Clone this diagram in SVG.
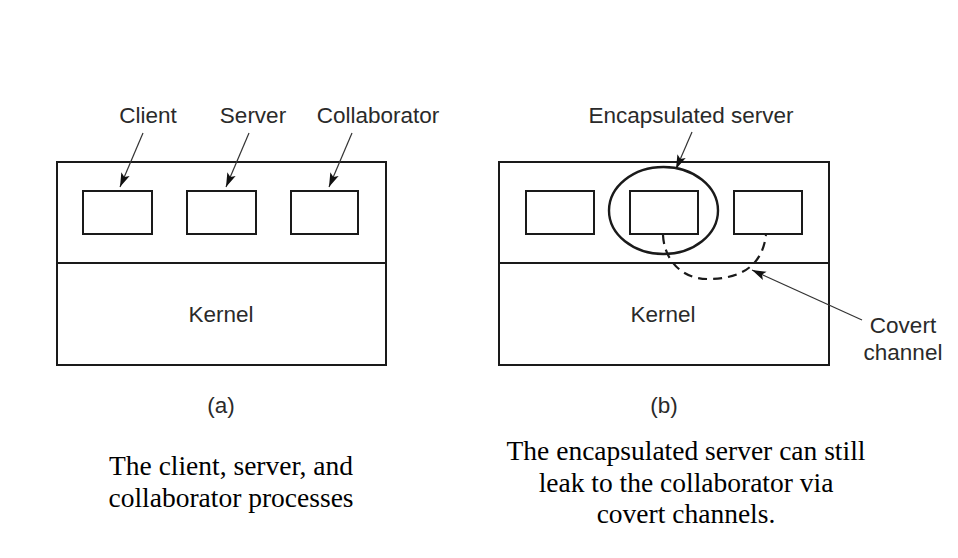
<svg xmlns="http://www.w3.org/2000/svg" width="958" height="558" viewBox="0 0 958 558">
<defs>
<style>
.frame{fill:none;stroke:#1a1a1a;stroke-width:2}
.box{fill:#fff;stroke:#1a1a1a;stroke-width:2}
.lbl{font-family:"Liberation Sans",Arial,sans-serif;font-size:22.5px;fill:#2a2a2a}
.cap{font-family:"Liberation Serif","Times New Roman",serif;font-size:27.5px;fill:#000;text-anchor:middle}
.ptr{stroke:#333;stroke-width:1.2;fill:none;marker-end:url(#ah)}
.dash{fill:none;stroke:#1a1a1a;stroke-width:2.2;stroke-dasharray:9,6}
</style>
<marker id="ah" markerUnits="userSpaceOnUse" markerWidth="16" markerHeight="10" refX="14" refY="5" orient="auto">
<path d="M0,0.5 L14,5 L0,9.5 L3,5 Z" fill="#111"/>
</marker>
</defs>
<rect width="958" height="558" fill="#fff"/>

<g id="panel-a">
<rect class="frame" x="57" y="162" width="329" height="203"/>
<line class="frame" x1="57" y1="263" x2="386" y2="263"/>
<text class="lbl" x="221" y="322" text-anchor="middle">Kernel</text>
<text class="lbl" x="221" y="413" text-anchor="middle">(a)</text>
</g>
<g id="client"><rect class="box" x="83" y="191" width="69" height="43"/><text class="lbl" x="148" y="123" text-anchor="middle">Client</text></g>
<g id="server"><rect class="box" x="187" y="191" width="69" height="43"/><text class="lbl" x="253" y="123" text-anchor="middle">Server</text></g>
<g id="collaborator"><rect class="box" x="291" y="191" width="67" height="43"/><text class="lbl" x="378" y="123" text-anchor="middle">Collaborator</text></g>

<g id="panel-b">
<rect class="frame" x="499" y="162" width="330" height="203"/>
<line class="frame" x1="499" y1="263" x2="829" y2="263"/>
<text class="lbl" x="663" y="322" text-anchor="middle">Kernel</text>
<text class="lbl" x="664" y="413" text-anchor="middle">(b)</text>
</g>
<g id="client-b"><rect class="box" x="526" y="191" width="68" height="43"/></g>
<g id="server-b"><rect class="box" x="630" y="191" width="68" height="43"/></g>
<g id="collaborator-b"><rect class="box" x="734" y="191" width="68" height="43"/></g>
<g id="encapsulation">
<ellipse cx="663.5" cy="210.5" rx="54.5" ry="43.5" fill="none" stroke="#1a1a1a" stroke-width="2.4"/>
<text class="lbl" x="691" y="123" text-anchor="middle">Encapsulated server</text>
</g>
<g id="covert-label">
<text class="lbl" x="903" y="333" text-anchor="middle">Covert</text>
<text class="lbl" x="903" y="360" text-anchor="middle">channel</text>
</g>

<g id="connectors">
<line class="ptr" x1="143" y1="133" x2="120" y2="187"/>
<line class="ptr" x1="249" y1="133" x2="226" y2="187"/>
<line class="ptr" x1="352" y1="133" x2="329" y2="187"/>
<line class="ptr" x1="692" y1="132" x2="676" y2="169"/>
<path class="dash" d="M663,235 C664,258 680,279 708,279 C738,279 762,268 766,235"/>
<line class="ptr" x1="862" y1="320" x2="752" y2="270"/>
</g>

<g id="captions">
<text class="cap" x="231" y="475">The client, server, and</text>
<text class="cap" x="231" y="507">collaborator processes</text>
<text class="cap" x="686" y="460">The encapsulated server can still</text>
<text class="cap" x="686" y="492">leak to the collaborator via</text>
<text class="cap" x="686" y="523">covert channels.</text>
</g>
</svg>
